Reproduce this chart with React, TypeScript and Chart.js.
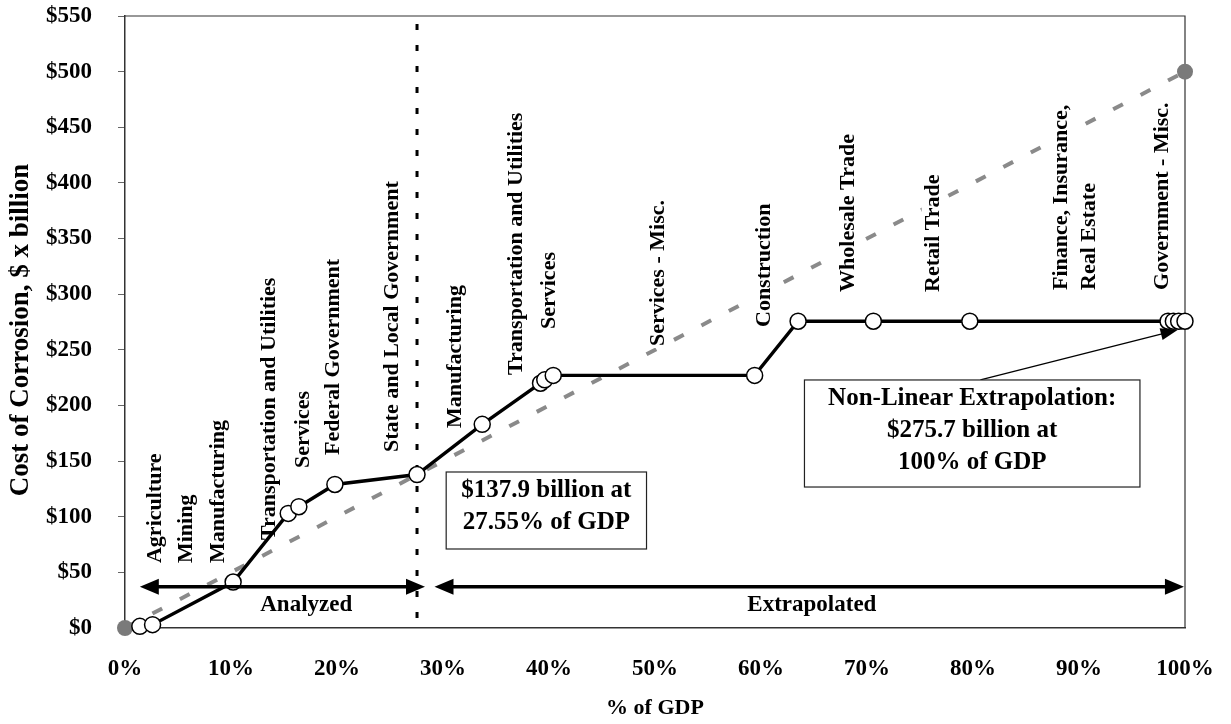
import React, { useEffect, useRef } from "react";
import { Chart, registerables } from "chart.js";

Chart.register(...registerables);

const FONT = '"Liberation Serif", "Times New Roman", Times, serif';

// Cumulative share of GDP (%) and cumulative cost of corrosion ($ billion)
const gdpShare = [1.4, 2.6, 10.2, 15.4, 16.4, 19.8, 27.55, 33.7, 39.2, 39.6, 40.4, 59.4, 63.5, 70.6, 79.7, 98.4, 98.9, 99.4, 100];
const corrosionCost = [1.5, 3, 41.3, 103, 109, 129, 137.9, 183, 220, 223, 227, 227, 275.7, 275.7, 275.7, 275.7, 275.7, 275.7, 275.7];

// Linear extrapolation endpoints
const linearShare = [0, 100];
const linearCost = [0, 500];

// Axis ticks
const xTickValues = [0, 10, 20, 30, 40, 50, 60, 70, 80, 90, 100];
const yTickValues = [0, 50, 100, 150, 200, 250, 300, 350, 400, 450, 500, 550];

// Sector labels (x position in % of GDP, base in $ billion)
const sectorNames = [
  "Agriculture",
  "Mining",
  "Manufacturing",
  "Transportation and Utilities",
  "Services",
  "Federal Government",
  "State and Local Government",
  "Manufacturing",
  "Transportation and Utilities",
  "Services",
  "Services - Misc.",
  "Construction",
  "Wholesale Trade",
  "Retail Trade",
  "Finance, Insurance,\nReal Estate",
  "Government - Misc.",
];
const sectorLabelX = [2.8, 5.7, 8.7, 13.5, 16.7, 19.6, 25.1, 31.1, 36.8, 39.9, 50.2, 60.2, 68.1, 76.2, 88.2, 97.8];
const sectorLabelBase = [58.4, 58.4, 58.4, 79.1, 143.8, 155.5, 158.2, 179.7, 227.4, 268.7, 253.4, 270.5, 302, 302, 303.8, 303.8];

// Analyzed / extrapolated spans
const cutoffShare = 27.55;
const spanNames = ["Analyzed", "Extrapolated"];
const spanStart = [1.4, 29.2];
const spanEnd = [28.3, 99.9];
const spanArrowCost = 37;
const spanLabelX = [17.1, 64.8];
const spanLabelCost = 20.7;

// Annotation boxes
const boxLines = [
  ["$137.9 billion at", "27.55% of GDP"],
  ["Non-Linear Extrapolation:", "$275.7 billion at", "100% of GDP"],
];
const boxLeft = [30.3, 64.1];
const boxRight = [49.2, 95.75];
const boxTop = [140.2, 222.9];
const boxBottom = [71, 126.7];

// Callout arrow from box 2 to the 100% point
const calloutFrom = { x: 80.7, y: 222.9 };
const calloutTo = { x: 99.3, y: 267.8 };

function arrowHead(ctx: CanvasRenderingContext2D, tx: number, ty: number, dx: number, dy: number, len: number, half: number) {
  const m = Math.hypot(dx, dy);
  const ux = dx / m, uy = dy / m;
  const nx = -uy, ny = ux;
  const bx = tx - ux * len, by = ty - uy * len;
  ctx.beginPath();
  ctx.moveTo(tx, ty);
  ctx.lineTo(bx + nx * half, by + ny * half);
  ctx.lineTo(bx - nx * half, by - ny * half);
  ctx.closePath();
  ctx.fill();
}

const overlay = {
  id: "overlay",
  beforeDatasetsDraw(chart: any) {
    const { ctx, chartArea: a, scales } = chart;
    const x = scales.x;
    ctx.save();
    ctx.strokeStyle = "#333";
    ctx.lineWidth = 1.2;
    ctx.beginPath();
    ctx.moveTo(a.left, a.top);
    ctx.lineTo(a.right, a.top);
    ctx.lineTo(a.right, a.bottom);
    ctx.stroke();
    const cx = x.getPixelForValue(cutoffShare);
    ctx.strokeStyle = "#000";
    ctx.lineWidth = 3;
    ctx.setLineDash([6, 15]);
    ctx.beginPath();
    ctx.moveTo(cx, a.top + 8);
    ctx.lineTo(cx, a.bottom + 4);
    ctx.stroke();
    ctx.restore();
  },
  afterDatasetDraw(chart: any, args: any) {
    if (args.index !== 1) return;
    const { ctx, scales } = chart;
    const x = scales.x, y = scales.y;
    const fs = 22;
    ctx.save();
    ctx.font = `bold ${fs}px ${FONT}`;
    ctx.textAlign = "left";
    ctx.textBaseline = "middle";
    sectorNames.forEach((name, i) => {
      const px = x.getPixelForValue(sectorLabelX[i]);
      const py = y.getPixelForValue(sectorLabelBase[i]);
      ctx.save();
      ctx.translate(px, py);
      ctx.rotate(-Math.PI / 2);
      name.split("\n").forEach((line, j) => {
        const off = j * 28;
        const w = ctx.measureText(line).width;
        ctx.fillStyle = "#fff";
        ctx.fillRect(-2, off - fs * 0.5, w + 4, fs);
        ctx.fillStyle = "#000";
        ctx.fillText(line, 0, off + 1);
      });
      ctx.restore();
    });
    ctx.restore();
  },
  afterDatasetsDraw(chart: any) {
    const { ctx, scales } = chart;
    const x = scales.x, y = scales.y;
    ctx.save();
    // span arrows
    const ay = y.getPixelForValue(spanArrowCost);
    ctx.fillStyle = "#000";
    ctx.strokeStyle = "#000";
    spanNames.forEach((name, i) => {
      const x1 = x.getPixelForValue(spanStart[i]);
      const x2 = x.getPixelForValue(spanEnd[i]);
      ctx.lineWidth = 3.5;
      ctx.beginPath();
      ctx.moveTo(x1 + 12, ay);
      ctx.lineTo(x2 - 12, ay);
      ctx.stroke();
      arrowHead(ctx, x1, ay, -1, 0, 19, 8);
      arrowHead(ctx, x2, ay, 1, 0, 19, 8);
      ctx.font = `bold 23px ${FONT}`;
      ctx.textAlign = "center";
      ctx.textBaseline = "middle";
      ctx.fillText(name, x.getPixelForValue(spanLabelX[i]), y.getPixelForValue(spanLabelCost));
    });
    // callout arrow
    const fx = x.getPixelForValue(calloutFrom.x), fy = y.getPixelForValue(calloutFrom.y);
    const tx = x.getPixelForValue(calloutTo.x), ty = y.getPixelForValue(calloutTo.y);
    ctx.lineWidth = 1.3;
    const d = Math.hypot(tx - fx, ty - fy);
    ctx.beginPath();
    ctx.moveTo(fx, fy);
    ctx.lineTo(tx - ((tx - fx) / d) * 12, ty - ((ty - fy) / d) * 12);
    ctx.stroke();
    arrowHead(ctx, tx, ty, tx - fx, ty - fy, 17, 6);
    // boxes
    boxLines.forEach((lines, i) => {
      const l = x.getPixelForValue(boxLeft[i]);
      const r = x.getPixelForValue(boxRight[i]);
      const t = y.getPixelForValue(boxTop[i]);
      const b = y.getPixelForValue(boxBottom[i]);
      ctx.fillStyle = "#fff";
      ctx.fillRect(l, t, r - l, b - t);
      ctx.strokeStyle = "#222";
      ctx.lineWidth = 1.2;
      ctx.strokeRect(l, t, r - l, b - t);
      ctx.fillStyle = "#000";
      ctx.font = `bold 25px ${FONT}`;
      ctx.textAlign = "center";
      ctx.textBaseline = "middle";
      lines.forEach((line, j) => {
        ctx.fillText(line, (l + r) / 2, t + 19 + j * 32);
      });
    });
    // axis titles
    ctx.fillStyle = "#000";
    ctx.font = `bold 27px ${FONT}`;
    ctx.textAlign = "center";
    ctx.textBaseline = "middle";
    ctx.save();
    ctx.translate(21, 330);
    ctx.rotate(-Math.PI / 2);
    ctx.fillText("Cost of Corrosion, $ x billion", 0, 0);
    ctx.restore();
    ctx.font = `bold 22px ${FONT}`;
    ctx.fillText("% of GDP", 655, 708);
    ctx.restore();
  },
};

export default function App() {
  const ref = useRef<HTMLCanvasElement | null>(null);
  useEffect(() => {
    document.body.style.margin = "0";
    const canvas = ref.current;
    if (!canvas) return;
    const chart = new Chart(canvas, {
      type: "scatter",
      data: {
        datasets: [
          {
            label: "Non-linear extrapolation",
            data: gdpShare.map((v, i) => ({ x: v, y: corrosionCost[i] })),
            showLine: true,
            borderColor: "#000",
            borderWidth: 3.4,
            pointRadius: 8,
            pointBackgroundColor: "#fff",
            pointBorderColor: "#000",
            pointBorderWidth: 1.5,
            clip: false,
          } as any,
          {
            label: "Linear extrapolation",
            data: linearShare.map((v, i) => ({ x: v, y: linearCost[i] })),
            showLine: true,
            borderColor: "#8a8a8a",
            borderWidth: 4,
            borderDash: [11, 20],
            pointRadius: 8,
            pointBackgroundColor: "#7a7a7a",
            pointBorderColor: "#7a7a7a",
            pointBorderWidth: 0,
            clip: false,
          } as any,
        ],
      },
      options: {
        animation: false,
        responsive: false,
        layout: { padding: { left: 0, right: 46, top: 16, bottom: 0 } },
        plugins: { legend: { display: false }, tooltip: { enabled: false } },
        scales: {
          x: {
            type: "linear",
            min: 0,
            max: 100,
            afterFit: (s: any) => {
              s.height = 96;
              s.paddingLeft = 0;
              s.paddingRight = 0;
            },
            afterBuildTicks: (s: any) => { s.ticks = xTickValues.map((v) => ({ value: v })); },
            ticks: {
              callback: (v: any) => `${v}%`,
              font: { family: FONT, size: 23, weight: "bold" },
              color: "#000",
              padding: 19,
              maxRotation: 0,
            },
            grid: { display: false },
            border: { display: true, color: "#333", width: 1.5 },
          },
          y: {
            type: "linear",
            min: 0,
            max: 550,
            afterFit: (s: any) => {
              s.width = 125;
              s.paddingTop = 0;
              s.paddingBottom = 0;
            },
            afterBuildTicks: (s: any) => { s.ticks = yTickValues.map((v) => ({ value: v })); },
            ticks: {
              callback: (v: any) => `$${v}`,
              font: { family: FONT, size: 23, weight: "bold" },
              color: "#000",
              padding: 26,
            },
            grid: { display: true, drawOnChartArea: false, drawTicks: true, tickLength: 7, color: "#666" },
            border: { display: true, color: "#333", width: 1.5 },
          },
        },
      },
      plugins: [overlay],
    } as any);
    return () => chart.destroy();
  }, []);
  return (
    <div style={{ width: 1231, height: 724 }}>
      <canvas ref={ref} width={1231} height={724} style={{ display: "block" }} />
    </div>
  );
}
